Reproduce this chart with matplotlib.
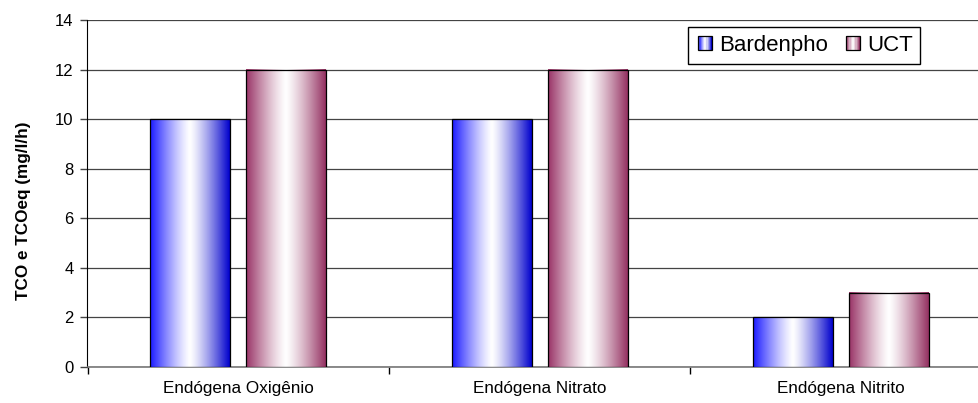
import numpy as np
import matplotlib
matplotlib.use("Agg")
import matplotlib.pyplot as plt
from matplotlib.legend_handler import HandlerBase
from matplotlib.patches import Rectangle

plt.rcParams['font.family'] = ['Liberation Sans', 'DejaVu Sans']

categories = ["Endógena Oxigênio", "Endógena Nitrato", "Endógena Nitrito"]
series_names = ["Bardenpho", "UCT"]
bardenpho = [10, 10, 2]
uct = [12, 12, 3]
y_ticks = [0, 2, 4, 6, 8, 10, 12, 14]
y_label = "TCO e TCOeq (mg/l/h)"

# edge colours (left, right) for each series' horizontal gradient
edge_colors = {
    "Bardenpho": ((0.10, 0.10, 1.0), (0.0, 0.0, 0.80)),
    "UCT": ((0.60, 0.20, 0.40), (0.58, 0.19, 0.38)),
}


def gradient_row(left, right, n=200, power=1.25):
    u = np.linspace(0, 1, n)
    t = np.abs(u - 0.5) * 2
    w = t ** power
    left = np.array(left)
    right = np.array(right)
    edge = np.where(u[:, None] < 0.5, left[None, :], right[None, :])
    rgb = (1 - w[:, None]) * 1.0 + w[:, None] * edge
    return rgb[None, :, :]


class GradientSquare(HandlerBase):
    def __init__(self, left, right, **kw):
        super().__init__(**kw)
        self.left = left
        self.right = right

    def create_artists(self, legend, orig_handle, xdescent, ydescent,
                       width, height, fontsize, trans):
        size = min(width, height) * 0.88
        x0 = -xdescent + (width - size)
        y0 = -ydescent + (height - size) / 2
        n = 12
        row = gradient_row(self.left, self.right, n=n)[0]
        arts = []
        for i in range(n):
            r = Rectangle((x0 + i * size / n, y0), size / n, size,
                          facecolor=row[i], edgecolor='none', transform=trans)
            arts.append(r)
        arts.append(Rectangle((x0, y0), size, size, facecolor='none',
                              edgecolor='black', lw=0.9, transform=trans))
        return arts


W, H = 979, 403
fig = plt.figure(figsize=(W / 100, H / 100), dpi=100)
ax = fig.add_axes([87.5 / W, 36 / H, 904.5 / W, 347 / H])

x = np.arange(len(categories))
bw = 0.265
off = 0.159
handles = []
for vals, name, sign in [(bardenpho, "Bardenpho", -1), (uct, "UCT", 1)]:
    bars = ax.bar(x + sign * off, vals, width=bw, facecolor='none',
                  edgecolor='black', linewidth=0.9, zorder=4, label=name)
    left, right = edge_colors[name]
    img = gradient_row(left, right)
    for p in bars.patches:
        x0, y0 = p.get_x(), p.get_y()
        ax.imshow(img, extent=(x0, x0 + p.get_width(), y0, y0 + p.get_height()),
                  aspect='auto', interpolation='bilinear', zorder=3)
    handles.append(bars)

ax.set_xlim(-0.5, len(categories) - 0.5)
ax.set_ylim(0, 14)
ax.set_yticks(y_ticks)
ax.set_yticklabels([str(v) for v in y_ticks], fontsize=12)
ax.yaxis.grid(True, color='#444444', linewidth=0.9, zorder=0)
ax.set_axisbelow(True)

# category boundaries carry tick marks, centres carry the labels
ax.set_xticks(np.arange(len(categories) + 1) - 0.5)
ax.set_xticklabels([])
ax.set_xticks(x, minor=True)
ax.set_xticklabels(categories, minor=True, fontsize=12.3)
ax.tick_params(axis='x', which='minor', length=0, pad=10)
ax.tick_params(axis='x', which='major', length=5, width=1, color='black',
               direction='out')
ax.tick_params(axis='y', length=5, width=1, color='#444444', pad=5)

ax.set_ylabel(y_label, fontsize=12.3, fontweight='bold')
ax.yaxis.set_label_coords(-56 / 904.5, 0.45)

for s in ['top', 'right']:
    ax.spines[s].set_visible(False)
ax.spines['left'].set_color('black')
ax.spines['bottom'].set_color('#777777')
ax.spines['bottom'].set_linewidth(1.2)

leg = ax.legend(handles, series_names, ncol=2, loc='upper left',
                bbox_to_anchor=(688 / W, 1 - 27 / H),
                bbox_transform=fig.transFigure,
                fontsize=16, frameon=True, fancybox=False, framealpha=1,
                edgecolor='black', handlelength=0.75, handleheight=0.75,
                handletextpad=0.3, columnspacing=0.7, borderpad=0.35,
                borderaxespad=0,
                handler_map={handles[0]: GradientSquare(*edge_colors["Bardenpho"]),
                             handles[1]: GradientSquare(*edge_colors["UCT"])})
leg.get_frame().set_linewidth(1.0)
leg.set_zorder(10)

fig.savefig("out.png", dpi=100)
